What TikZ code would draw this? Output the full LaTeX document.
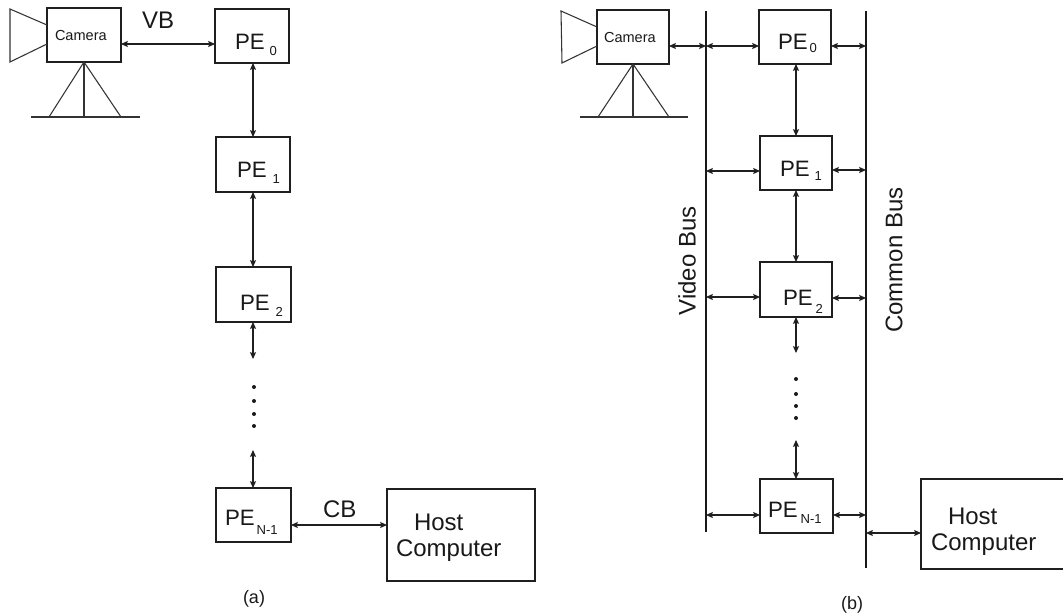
\documentclass[tikz,border=0pt]{standalone}
\usepackage{fontspec}
\setmainfont{Liberation Sans}
\usetikzlibrary{arrows.meta}
\newlength{\pxu}\setlength{\pxu}{0.75pt}
\newcommand{\pelabel}[7]{\node[txt,font=\fontsize{16.7}{18}\selectfont] (#1) at (#2,#3) {PE\kern#5\pxu\raisebox{-#6\pxu}{\fontsize{9.8}{10}\selectfont #4}#7};}
\tikzset{
  box/.style={draw=black!88,line width=0.9pt,inner sep=0,outer sep=0,fill=white},
  bus/.style={fill=black!90,inner sep=0,outer sep=0,minimum width=1.5pt},
  conn/.style={draw=black!88,line width=0.85pt,{Stealth[length=5pt,width=4.4pt,inset=0.6pt]}-{Stealth[length=5pt,width=4.4pt,inset=0.6pt]}},
  thin line/.style={draw=black!80,line width=0.8pt},
  txt/.style={anchor=base west,inner sep=0,outer sep=0,text=black!90},
  bigtxt/.style={txt,font=\fontsize{18}{20}\selectfont},
  camtxt/.style={txt,font=\fontsize{10.9}{12}\selectfont},
  captxt/.style={txt,font=\fontsize{13.5}{15}\selectfont},
  vlab/.style={inner sep=0,outer sep=0,rotate=90,text=black!90,font=\fontsize{18}{20}\selectfont},
  dotmark/.style={fill=black!90,draw=none}
}
\begin{document}
\begin{tikzpicture}[x=0.75pt,y=-0.75pt]
\useasboundingbox (0,0) rectangle (1063,614);
\fill[white] (0,0) rectangle (1063,614);
% ---------- (a) ----------
\node[box,minimum width=74\pxu,minimum height=54\pxu] (camA) at (84,35) {};
\node[box,minimum width=74\pxu,minimum height=54\pxu] (peA0) at (252,36) {};
\node[box,minimum width=74\pxu,minimum height=55\pxu] (peA1) at (253,164.5) {};
\node[box,minimum width=75\pxu,minimum height=55\pxu] (peA2) at (253.5,294.5) {};
\node[box,minimum width=75\pxu,minimum height=54\pxu] (peA3) at (253.5,515) {};
\node[box,minimum width=148\pxu,minimum height=92\pxu] (hostA) at (461,535) {};
\draw[thin line] (47,25) -- (10,9) -- (10,62) -- (47,44);
\draw[thin line] (49,117) -- (camA.south) -- (121,117);
\draw[thin line] (camA.south) -- (84,117);
\draw[thin line] (31,117) -- (140,117);
\coordinate (endA2) at (253,359);
\coordinate (endA3) at (253,450);
\draw[conn] (camA.east |- 0,44) -- (peA0.west |- 0,44);
\draw[conn] (peA1.north |- peA0.south) -- (peA1.north);
\draw[conn] (peA1.south) -- (peA1.south |- peA2.north);
\draw[conn] (peA1.south |- peA2.south) -- (endA2);
\draw[conn] (endA3) -- (endA3 |- peA3.north);
\draw[conn] (peA3.east |- 0,525) -- (hostA.west |- 0,525);
\foreach \yy in {387,401,414,426} \fill[dotmark] (254,\yy) circle (2);
\node[camtxt] (camAt) at (55,40) {Camera};
\node[bigtxt] (vbt) at (142,28) {VB};
\node[bigtxt] (cbt) at (323,517) {CB};
\pelabel{lA0}{235}{49}{0}{5}{7}{}
\pelabel{lA1}{237}{177}{1}{6}{6}{}
\pelabel{lA2}{240}{310}{2}{6}{6}{}
\pelabel{lA3}{225}{525}{N-1}{2}{9}{}
\node[bigtxt] (hA1) at (414,530) {Host};
\node[bigtxt] (hA2) at (396,556) {Computer};
\node[captxt] (capA) at (243,603) {(a)};
% ---------- (b) ----------
\node[bus,minimum height=521\pxu] (vbus) at (706,271.5) {};
\node[bus,minimum height=557\pxu] (cbus) at (866,289.5) {};
\node[box,minimum width=72\pxu,minimum height=54\pxu] (camB) at (633,37) {};
\node[box,minimum width=72\pxu,minimum height=54\pxu] (peB0) at (795,37) {};
\node[box,minimum width=72\pxu,minimum height=54\pxu] (peB1) at (796,163) {};
\node[box,minimum width=72\pxu,minimum height=55\pxu] (peB2) at (796,289.5) {};
\node[box,minimum width=73\pxu,minimum height=54\pxu] (peB3) at (796.5,506) {};
\node[inner sep=0,outer sep=0,minimum width=142\pxu,minimum height=90\pxu] (hostB) at (992,524) {};
\draw[draw=black!88,line width=0.9pt] (hostB.north east) -- (hostB.north west) -- (hostB.south west) -- (hostB.south east);
\draw[thin line] (597,27) -- (561,11) -- (562,63) -- (597,46);
\draw[thin line] (598,117) -- (camB.south) -- (669,117);
\draw[thin line] (camB.south) -- (633,117);
\draw[thin line] (580,117) -- (688,117);
\coordinate (endB2) at (796,353);
\coordinate (endB3) at (796,440);
\draw[conn] (camB.east |- 0,46) -- (vbus |- 0,46);
\draw[conn] (vbus |- 0,46) -- (peB0.west |- 0,46);
\draw[conn] (peB0.east |- 0,46) -- (cbus |- 0,46);
\draw[conn] (vbus |- 0,171) -- (peB1.west |- 0,171);
\draw[conn] (peB1.east |- 0,170) -- (cbus |- 0,170);
\draw[conn] (vbus |- 0,297) -- (peB2.west |- 0,297);
\draw[conn] (peB2.east |- 0,298) -- (cbus |- 0,298);
\draw[conn] (vbus |- 0,515) -- (peB3.west |- 0,515);
\draw[conn] (peB3.east |- 0,515) -- (cbus |- 0,515);
\draw[conn] (cbus |- 0,533) -- (hostB.west |- 0,533);
\draw[conn] (peB1.north |- peB0.south) -- (peB1.north);
\draw[conn] (peB1.south) -- (peB2.north);
\draw[conn] (peB2.south) -- (endB2);
\draw[conn] (endB3) -- (endB3 |- peB3.north);
\foreach \yy in {379,394,406,418} \fill[dotmark] (796,\yy) circle (2);
\node[camtxt] (camBt) at (604,42) {Camera};
\pelabel{lB0}{778}{49}{0}{2}{3}{}
\pelabel{lB1}{780}{176}{1}{5}{4}{}
\pelabel{lB2}{783}{305}{2}{3}{8}{}
\pelabel{lB3}{768}{517}{N-1}{3}{6}{}
\node[bigtxt] (hB1) at (948,524) {Host};
\node[bigtxt] (hB2) at (931,550) {Computer};
\node[vlab] (vbl) at (687,261) {Video Bus};
\node[vlab] (cbl) at (894,260) {Common Bus};
\node[captxt] (capB) at (841,609) {(b)};
\end{tikzpicture}
\end{document}
